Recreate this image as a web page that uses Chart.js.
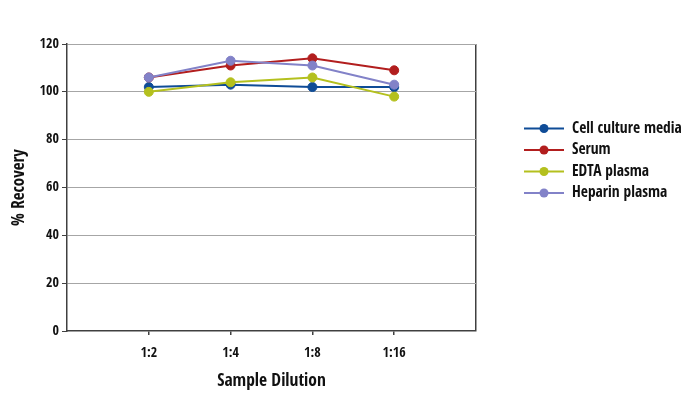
<!DOCTYPE html>
<html>
<head>
<meta charset="utf-8">
<script src="https://cdn.jsdelivr.net/npm/chart.js@4.4.1/dist/chart.umd.min.js"></script>
<style>
html,body{margin:0;padding:0;background:#fff;}
#wrap{width:694px;height:397px;position:relative;}
</style>
</head>
<body>
<div id="wrap"><canvas id="c" width="694" height="397"></canvas></div>
<script>
const dilutions = ['1:2', '1:4', '1:8', '1:16'];
const seriesNames = ['Cell culture media', 'Serum', 'EDTA plasma', 'Heparin plasma'];
const cellCulture = [102, 103, 102, 102];
const serum = [106, 111, 114, 109];
const edtaPlasma = [100, 104, 106, 98];
const heparinPlasma = [106, 113, 111, 103];
const yTicks = [0, 20, 40, 60, 80, 100, 120];
const colors = ['#0F4C97', '#B21E1E', '#B4C01E', '#8282C8'];

const FONT = "'Open Sans Condensed', 'Roboto Condensed', sans-serif";
const W = 'bold';
const labels = [''].concat(dilutions, ['']);
const pad = arr => [null].concat(arr, [null]);
const allSeries = [cellCulture, serum, edtaPlasma, heparinPlasma];

const datasets = allSeries.map((d, i) => ({
  label: seriesNames[i],
  data: pad(d),
  borderColor: colors[i],
  backgroundColor: colors[i],
  pointBackgroundColor: colors[i],
  pointBorderColor: colors[i],
  borderWidth: 2,
  pointRadius: 4.5,
  pointBorderWidth: 1,
  tension: 0,
  order: allSeries.length - i
}));

const legendPlugin = {
  id: 'customLegend',
  afterDraw(chart) {
    const ctx = chart.ctx;
    ctx.save();
    seriesNames.forEach((name, i) => {
      const y = 128.5 + i * 21.5;
      ctx.strokeStyle = colors[i];
      ctx.lineWidth = 2;
      ctx.beginPath();
      ctx.moveTo(524, y);
      ctx.lineTo(564, y);
      ctx.stroke();
      ctx.fillStyle = colors[i];
      ctx.beginPath();
      ctx.arc(544, y, 4.5, 0, Math.PI * 2);
      ctx.fill();
      ctx.fillStyle = '#111';
      ctx.font = W + ' 15.5px ' + FONT;
      ctx.textBaseline = 'middle';
      ctx.textAlign = 'left';
      ctx.fillText(name, 572, y);
    });
    ctx.restore();
  }
};

new Chart(document.getElementById('c'), {
  type: 'line',
  data: { labels: labels, datasets: datasets },
  plugins: [legendPlugin],
  options: {
    responsive: false,
    animation: false,
    devicePixelRatio: 1,
    layout: { padding: { top: 44, right: 218, left: 0, bottom: 0 } },
    plugins: { legend: { display: false }, tooltip: { enabled: false } },
    scales: {
      x: {
        type: 'category',
        offset: false,
        afterFit(scale) { scale.height = 66; },
        grid: {
          drawOnChartArea: true,
          color: c => c.index === labels.length - 1 ? '#404040' : 'rgba(0,0,0,0)',
          tickColor: c => (c.index > 0 && c.index < labels.length - 1) ? '#404040' : 'rgba(0,0,0,0)',
          tickLength: 4,
          lineWidth: 1.5
        },
        border: { display: true, color: '#404040', width: 1.5 },
        ticks: {
          autoSkip: false,
          maxRotation: 0,
          padding: 10,
          color: '#111',
          font: { family: FONT, size: 14, weight: W }
        },
        title: {
          display: true,
          text: 'Sample Dilution',
          color: '#111',
          font: { family: FONT, size: 17.5, weight: W },
          padding: { top: 0, bottom: 5 }
        }
      },
      y: {
        min: 0,
        max: 120,
        afterFit(scale) { scale.width = 67; },
        afterBuildTicks(scale) { scale.ticks = yTicks.map(v => ({ value: v })); },
        grid: {
          color: c => c.tick && c.tick.value === 0 ? 'rgba(0,0,0,0)' : '#A6A6A6',
          tickColor: '#404040',
          tickLength: 5,
          lineWidth: 1
        },
        border: { display: true, color: '#404040', width: 1.5 },
        ticks: {
          padding: 3,
          color: '#111',
          font: { family: FONT, size: 14, weight: W }
        },
        title: {
          display: true,
          text: '% Recovery',
          color: '#111',
          font: { family: FONT, size: 17, weight: W },
          padding: { top: 9, bottom: 0 }
        }
      }
    }
  }
});
</script>
</body>
</html>
